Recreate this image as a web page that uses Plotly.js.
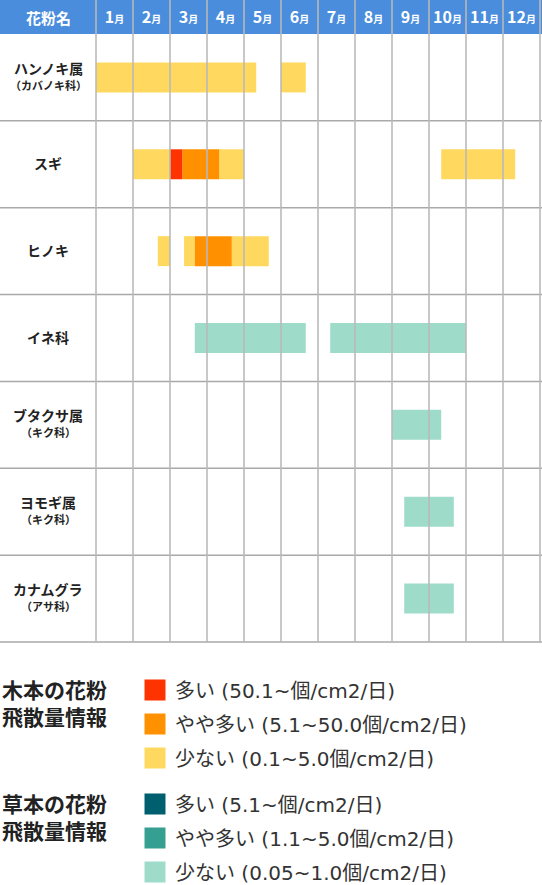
<!DOCTYPE html>
<html>
<head>
<meta charset="utf-8">
<script src="https://cdn.plot.ly/plotly-3.0.1.min.js"></script>
<style>
html,body{margin:0;padding:0;background:#fff;}
#chart{width:542px;height:885px;}
</style>
</head>
<body>
<div id="chart"></div>
<script>
// ---------- data ----------
const pollenNames = ['ハンノキ属', 'スギ', 'ヒノキ', 'イネ科', 'ブタクサ属', 'ヨモギ属', 'カナムグラ'];
const pollenSubNames = ['（カバノキ科）', '', '', '', '（キク科）', '（キク科）', '（アサ科）'];
const monthNumbers = ['1', '2', '3', '4', '5', '6', '7', '8', '9', '10', '11', '12'];
const headerLabel = '花粉名';

// 木本（tree pollen) segments: row index, start month, end month (0 = 1月初)
const treeHighRow = [1];
const treeHighStart = [2.0];
const treeHighEnd = [2.33];

const treeMidRow = [1, 2];
const treeMidStart = [2.33, 2.67];
const treeMidEnd = [3.33, 3.67];

const treeLowRow = [0, 0, 1, 1, 1, 2, 2, 2];
const treeLowStart = [0.0, 5.0, 1.0, 3.33, 9.33, 1.67, 2.38, 3.67];
const treeLowEnd = [4.33, 5.67, 2.0, 4.0, 11.33, 2.0, 2.67, 4.67];

// 草本（grass pollen) segments
const grassHighRow = [];
const grassHighStart = [];
const grassHighEnd = [];

const grassMidRow = [];
const grassMidStart = [];
const grassMidEnd = [];

const grassLowRow = [3, 3, 4, 5, 6];
const grassLowStart = [2.67, 6.33, 8.0, 8.33, 8.33];
const grassLowEnd = [5.67, 10.0, 9.33, 9.67, 9.67];

const treeLegendTitle = '木本の花粉<br>飛散量情報';
const grassLegendTitle = '草本の花粉<br>飛散量情報';
const treeLevelNames = ['多い (50.1~個/cm2/日)', 'やや多い (5.1~50.0個/cm2/日)', '少ない (0.1~5.0個/cm2/日)'];
const grassLevelNames = ['多い (5.1~個/cm2/日)', 'やや多い (1.1~5.0個/cm2/日)', '少ない (0.05~1.0個/cm2/日)'];
const treeColors = ['#ff3300', '#ff9100', '#ffd95f'];
const grassColors = ['#005f6e', '#35a092', '#9edcc9'];

// ---------- geometry (px) ----------
const FIG_W = 542, FIG_H = 885;
const M = {l: 96, r: 2, t: 34, b: 243};
const PW = FIG_W - M.l - M.r;
const PH = FIG_H - M.t - M.b;
const FONT = "'Noto Sans CJK JP', 'Noto Sans', sans-serif";
const LEG_ITEM_FONT = "'DejaVu Sans', 'Noto Sans CJK JP', sans-serif";
const LEG_FONT = 20;
const LEG_TITLE_FONT = 21;

function barTrace(rows, starts, ends, color) {
  return {
    type: 'bar', orientation: 'h',
    y: rows, base: starts,
    x: ends.map((e, i) => e - starts[i]),
    width: 0.345,
    marker: {color: color, line: {width: 0}},
    showlegend: false, hoverinfo: 'skip'
  };
}

function legendTrace(name, color, legendId, group) {
  return {
    type: 'scatter', mode: 'markers', x: [null], y: [null],
    name: name, legend: legendId, legendgroup: group,
    marker: {symbol: 'square', size: 16, color: color, line: {width: 5, color: color}},
    hoverinfo: 'skip'
  };
}

const data = [
  barTrace(treeLowRow, treeLowStart, treeLowEnd, treeColors[2]),
  barTrace(treeMidRow, treeMidStart, treeMidEnd, treeColors[1]),
  barTrace(treeHighRow, treeHighStart, treeHighEnd, treeColors[0]),
  barTrace(grassLowRow, grassLowStart, grassLowEnd, grassColors[2]),
  barTrace(grassMidRow, grassMidStart, grassMidEnd, grassColors[1]),
  barTrace(grassHighRow, grassHighStart, grassHighEnd, grassColors[0])
];
treeLevelNames.forEach((n, i) => data.push(legendTrace(n, treeColors[i], 'legend', 't' + i)));
grassLevelNames.forEach((n, i) => data.push(legendTrace(n, grassColors[i], 'legend2', 'g' + i)));

// ---------- shapes ----------
const shapes = [];
// header background
shapes.push({
  type: 'rect', xref: 'paper', yref: 'paper', layer: 'below',
  x0: -M.l / PW, x1: 1 + M.r / PW, y0: 1, y1: 1 + M.t / PH,
  fillcolor: '#4a8ddc', line: {width: 0}
});
// horizontal row separators
for (let k = 0; k < pollenNames.length; k++) {
  const yy = k / pollenNames.length;
  shapes.push({
    type: 'line', xref: 'paper', yref: 'paper', layer: 'above',
    x0: -M.l / PW, x1: 1 + M.r / PW, y0: yy, y1: yy,
    line: {color: '#a9a9a9', width: 1.5}
  });
}
// vertical month separators (drawn over the bars, semi-transparent)
for (let k = 0; k <= monthNumbers.length; k++) {
  const xx = k / monthNumbers.length;
  shapes.push({
    type: 'line', xref: 'paper', yref: 'paper', layer: 'above',
    x0: xx, x1: xx, y0: 0, y1: 1 + M.t / PH,
    line: {color: 'rgba(185,185,185,0.78)', width: 2}
  });
}

// ---------- annotations ----------
const annotations = [];
annotations.push({
  xref: 'paper', yref: 'paper', x: 0, xshift: -M.l / 2, y: 1, yshift: M.t / 2,
  xanchor: 'center', yanchor: 'middle', showarrow: false,
  text: '<b>' + headerLabel + '</b>', font: {family: FONT, size: 15, color: '#ffffff'}
});
pollenNames.forEach((name, i) => {
  const hasSub = pollenSubNames[i] !== '';
  annotations.push({
    xref: 'paper', yref: 'y', x: 0, xshift: -M.l / 2, y: i, yshift: hasSub ? 9.5 : 1,
    xanchor: 'center', yanchor: 'middle', showarrow: false,
    text: '<b>' + name + '</b>', font: {family: FONT, size: 14, color: '#222222'}
  });
  if (hasSub) {
    annotations.push({
      xref: 'paper', yref: 'y', x: 0, xshift: -M.l / 2, y: i, yshift: -7.5,
      xanchor: 'center', yanchor: 'middle', showarrow: false,
      text: '<b>' + pollenSubNames[i] + '</b>', font: {family: FONT, size: 11, color: '#222222'}
    });
  }
});

const legendCommon = {
  orientation: 'v', xanchor: 'left', yanchor: 'top',
  bgcolor: 'rgba(0,0,0,0)', borderwidth: 0,
  font: {family: LEG_ITEM_FONT, size: LEG_FONT, color: '#333333'},
  tracegroupgap: 34 - (LEG_FONT * 1.3 + 3), indentation: 20,
  itemclick: false, itemdoubleclick: false
};

const layout = {
  width: FIG_W, height: FIG_H,
  margin: {l: M.l, r: M.r, t: M.t, b: M.b, autoexpand: false},
  paper_bgcolor: '#ffffff', plot_bgcolor: '#ffffff',
  font: {family: FONT, color: '#222222'},
  barmode: 'overlay',
  showlegend: true,
  xaxis: {
    range: [0, monthNumbers.length], side: 'top', fixedrange: true,
    tickvals: monthNumbers.map((m, i) => i + 0.5),
    ticktext: monthNumbers.map(m => '<b>' + m + '</b><span style="font-size:10px"><b>月</b></span>'),
    tickfont: {family: FONT, size: 16, color: '#ffffff'},
    ticks: '', showgrid: false, zeroline: false, showline: false,
    ticklabelstandoff: 7
  },
  yaxis: {
    range: [pollenNames.length - 0.5, -0.5], fixedrange: true,
    showticklabels: false, ticks: '', showgrid: false, zeroline: false, showline: false
  },
  legend: Object.assign({}, legendCommon, {
    x: -M.l / PW, y: -(670.5 - (FIG_H - M.b)) / PH,
    title: {text: '<b>' + treeLegendTitle + '</b>', side: 'left', font: {family: FONT, size: LEG_TITLE_FONT, color: '#222222'}}
  }),
  legend2: Object.assign({}, legendCommon, {
    x: -M.l / PW, y: -(784.5 - (FIG_H - M.b)) / PH,
    title: {text: '<b>' + grassLegendTitle + '</b>', side: 'left', font: {family: FONT, size: LEG_TITLE_FONT, color: '#222222'}}
  }),
  shapes: shapes,
  annotations: annotations
};

Plotly.newPlot('chart', data, layout, {displayModeBar: false, responsive: false});
</script>
</body>
</html>
